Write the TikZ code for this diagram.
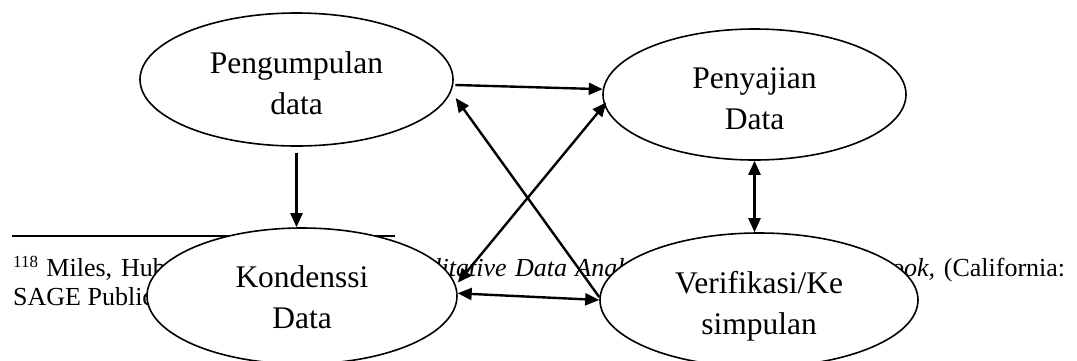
\documentclass[tikz,border=0pt]{standalone}
\usepackage{fontspec}
\setmainfont{Liberation Serif}
\usetikzlibrary{shapes.geometric,arrows.meta}

\begin{document}
\begin{tikzpicture}[x=1pt,y=-1pt,
  bubble/.style={ellipse, draw, fill=white, line width=1.6pt, inner sep=0pt},
  bubbletext/.style={anchor=base, inner sep=0pt, font=\fontsize{31.5}{41}\selectfont},
  flow/.style={line width=2.4pt, -{Triangle[length=14pt,width=12pt]}},
  flowboth/.style={line width=2.4pt, {Triangle[length=14pt,width=12pt]}-{Triangle[length=14pt,width=12pt]}},
]
\useasboundingbox (0,0) rectangle (1077,360);

% footnote rule and footnote text (lie underneath the bubbles)
\draw[line width=1.4pt] (12,236) coordinate (rule-l) -- (395,236) coordinate (rule-r);
\node[anchor=base west, inner sep=0pt] (note) at (13,276)
  {\parbox[t]{1052pt}{\fontsize{26}{29.9}\selectfont
   \raisebox{9pt}{\fontsize{17}{17}\selectfont 118} Miles, Huberman, dan Saldana,
   \textit{Qualitative Data Analysis: A Methods Sourcebook,} (California:\linebreak
   SAGE Publications, 2014).}};

% the four stages
\node[bubble, minimum width=313pt, minimum height=133pt] (pk) at (296.5,79.5) {};
\node[bubble, minimum width=303pt, minimum height=131pt] (pd) at (754.5,94.5) {};
\node[bubble, minimum width=310pt, minimum height=136pt] (kd) at (302,296) {};
\node[bubble, minimum width=318pt, minimum height=134pt] (vs) at (759,300) {};

\node[bubbletext] (pk-t) at ([yshift=6.5pt]pk.center)
  {\begin{tabular}[t]{@{}c@{}}Pengumpulan\\data\end{tabular}};
\node[bubbletext] (pd-t) at ([yshift=6.5pt]pd.center)
  {\begin{tabular}[t]{@{}c@{}}Penyajian\\Data\end{tabular}};
\node[bubbletext] (kd-t) at ([yshift=9pt]kd.center)
  {\begin{tabular}[t]{@{}c@{}}Kondenssi\\Data\end{tabular}};
\node[bubbletext] (vs-t) at ([yshift=7pt]vs.center)
  {\begin{tabular}[t]{@{}c@{}}Verifikasi/Ke\\simpulan\end{tabular}};

% connectors
\draw[flow] ([yshift=-6pt]pk.south) -- (pk.south |- kd.north);
\draw[flow] ([xshift=2pt]pk.-2) -- (pd.178);
\draw[flowboth] ([xshift=3pt]kd.5) -- ([xshift=3pt]pd.183);
\draw[flow] (vs.179) -- ([xshift=8pt]pk.-7);
\draw[flowboth] (kd.1) -- (vs.west);
\draw[flowboth] (pd.south) -- (pd.south |- vs.north);
\end{tikzpicture}
\end{document}
